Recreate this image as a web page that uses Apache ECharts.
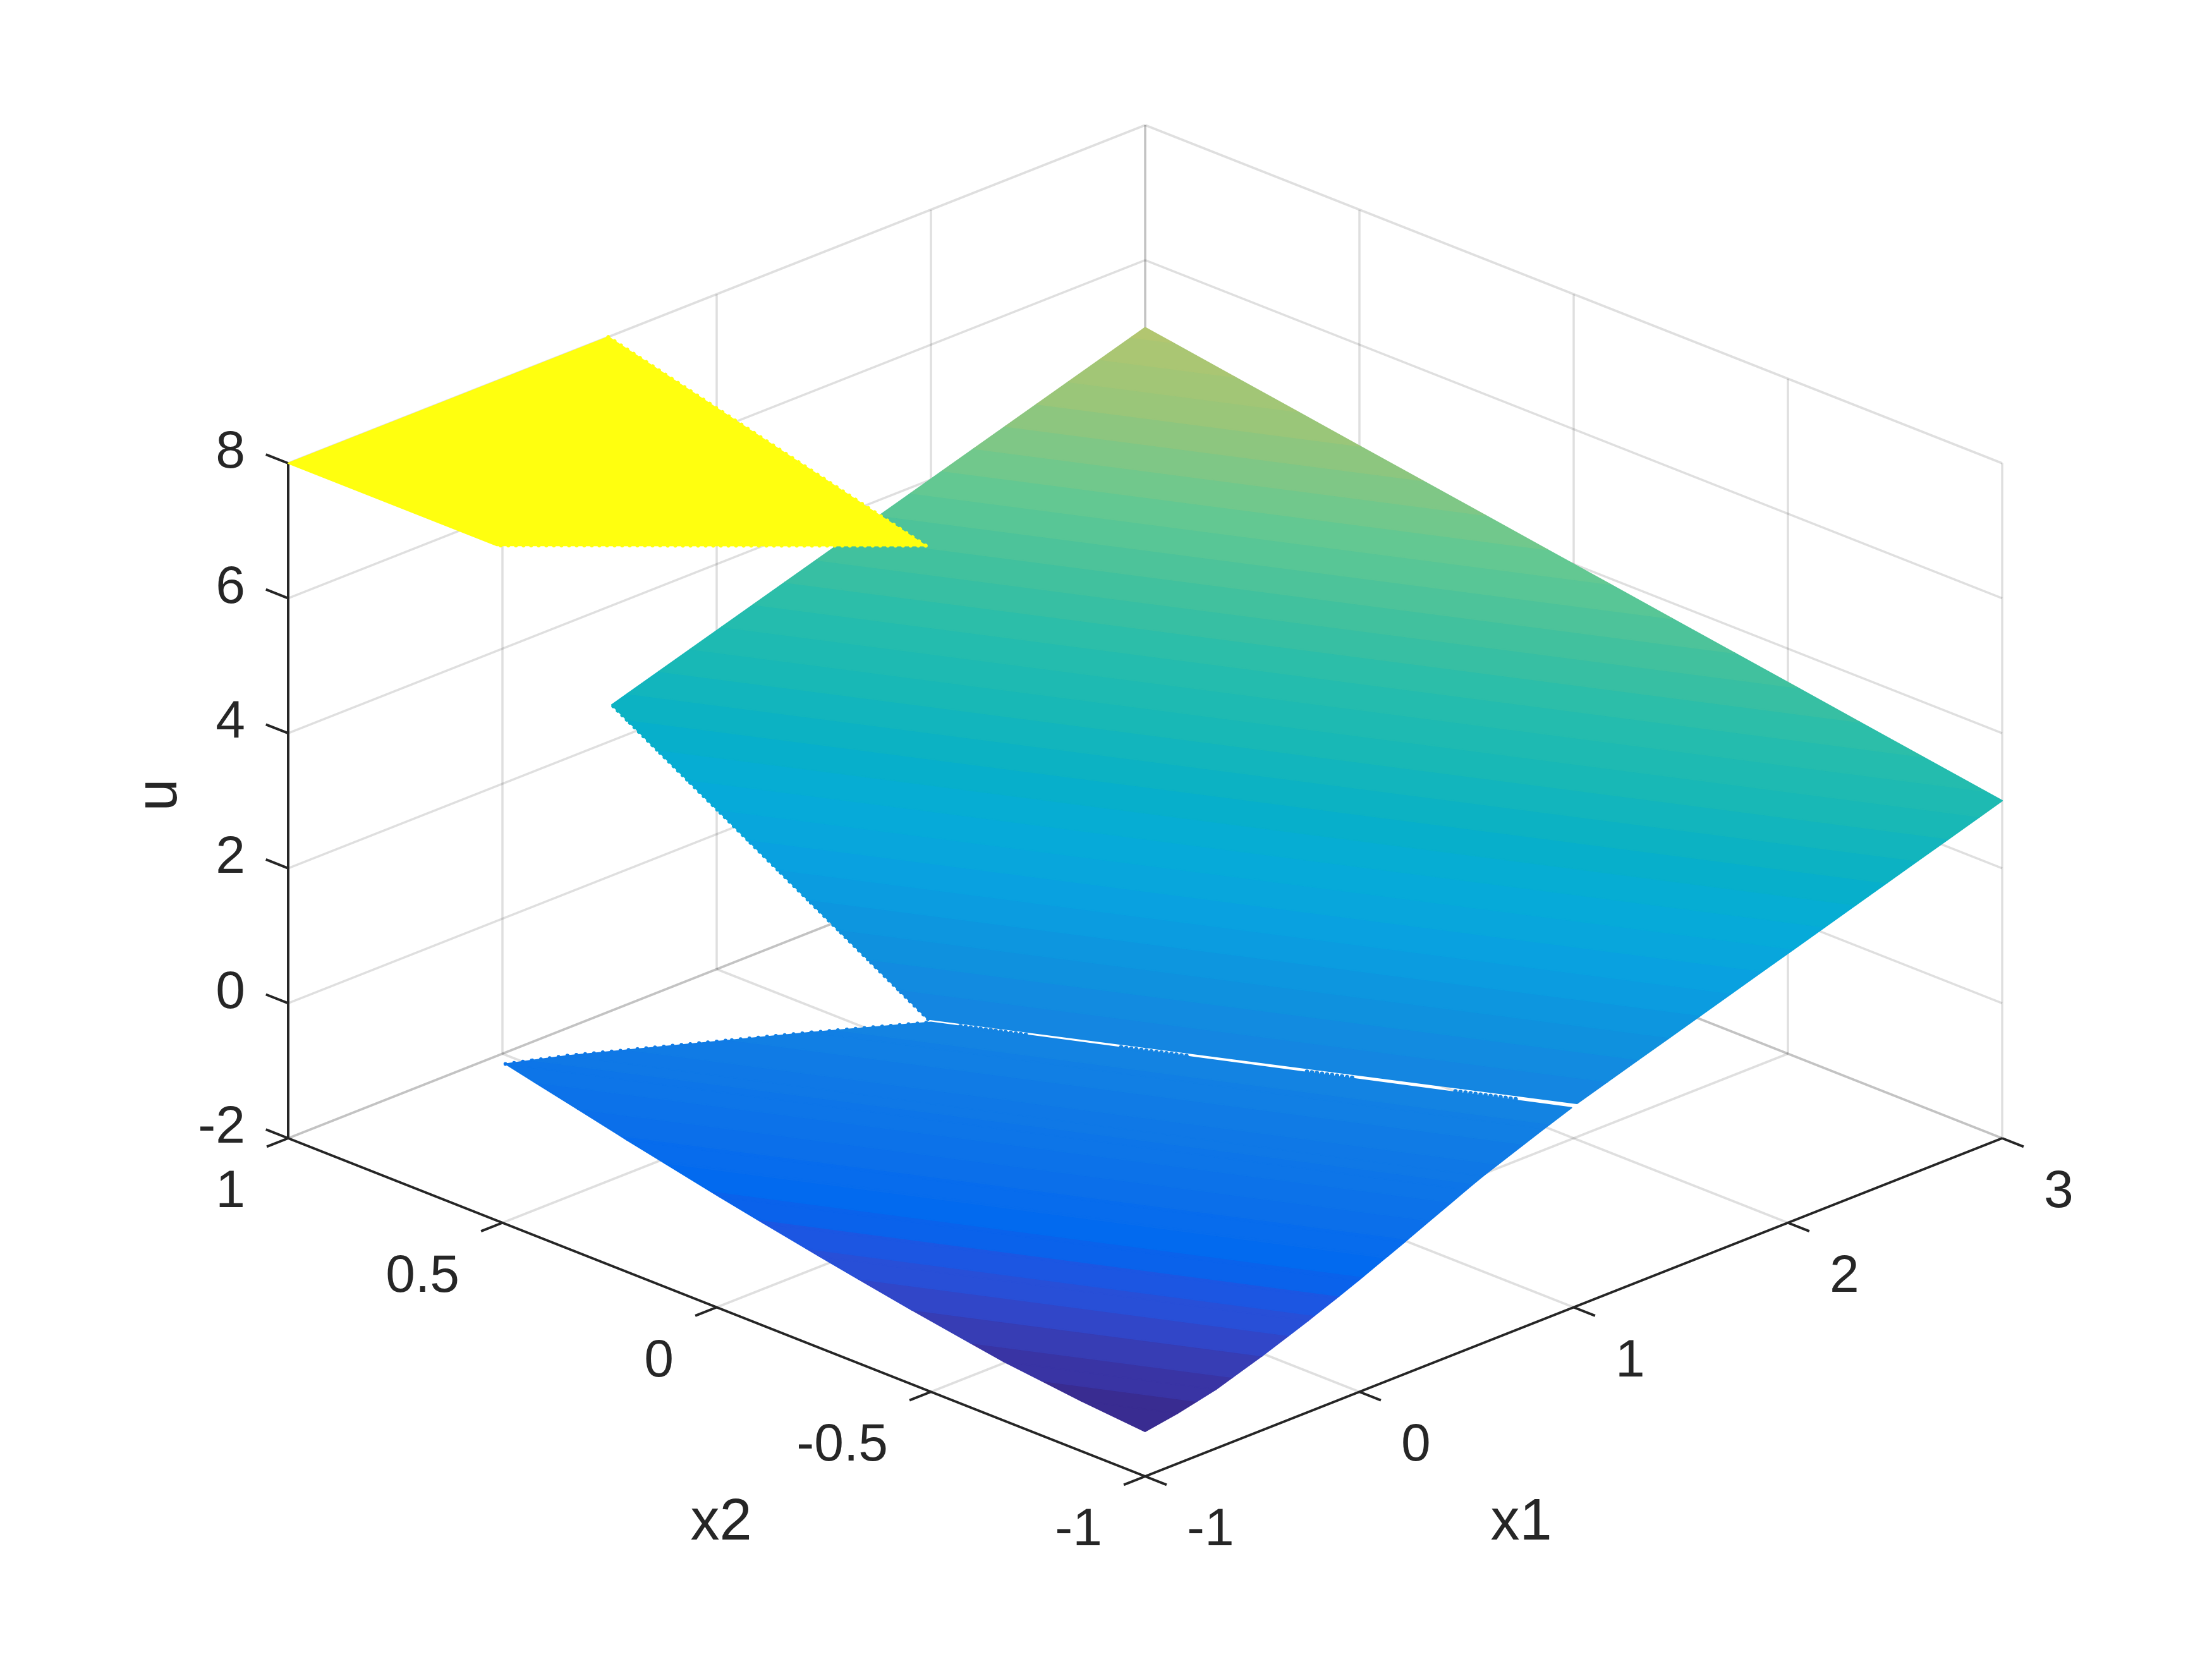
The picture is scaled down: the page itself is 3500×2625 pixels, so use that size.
<!DOCTYPE html>
<html>
<head>
<meta charset="utf-8">
<style>html,body{margin:0;padding:0;background:#fff}#chart{width:3500px;height:2625px}</style>
<script src="https://cdn.jsdelivr.net/npm/echarts@6/dist/echarts.min.js"></script>
</head>
<body>
<div id="chart"></div>
<script>
// ---- axis ticks ----
const x1Ticks = [-1, 0, 1, 2, 3];
const x1Labels = ['-1', '0', '1', '2', '3'];
const x2Ticks = [-1, -0.5, 0, 0.5, 1];
const x2Labels = ['-1', '-0.5', '0', '0.5', '1'];
const uTicks = [-2, 0, 2, 4, 6, 8];
const uLabels = ['-2', '0', '2', '4', '6', '8'];
const x1Title = 'x1', x2Title = 'x2', uTitle = 'u';

// ---- surface pieces, [x1, x2, u] ----
const saturatedPiece = [[-1, 1, 8], [0.494, 1, 8], [0, 0.012, 8], [-1, 0.513, 8]];
const upperPiece = [[3, 1, 5], [3, -1, 3], [1.015, -1, 1], [0, 0.007, 1], [0.51, 1, 2.53]];
const lowerLeftEdge = [[-1, -1, -1.335], [-1, -0.85, -1.255], [-1, -0.67, -1.125], [-1, -0.456, -0.9],
  [-1, -0.24, -0.645], [-1, -0.11, -0.48], [-1, -0.006, -0.345], [-1, 0.131, -0.155], [-1, 0.21, -0.045],
  [-1, 0.493, 0.37], [-0.848, 0.424, 0.475], [-0.278, 0.139, 0.82], [0, 0, 0.97]];
const lowerRightEdge = [[-1, -1, -1.335], [-0.85, -1, -1.255], [-0.67, -1, -1.125], [-0.456, -1, -0.9],
  [-0.24, -1, -0.645], [-0.11, -1, -0.48], [-0.006, -1, -0.345], [0.131, -1, -0.155], [0.21, -1, -0.045],
  [0.5, -1, 0.37], [0.576, -1, 0.475], [0.861, -1, 0.82], [0.99, -1, 0.97]];
// stretches of the seam where the white gap breaks into dots: [x1 start, x1 end]
const seamDottedSpans = [[0.046, 0.154], [0.296, 0.402], [0.585, 0.66], [0.816, 0.916]];
const seamU = 0.97;

// ---- colour scale: u value -> colour ----
const colourU = [-1.335, -1.15, -0.95, -0.75, -0.55, -0.3, 0, 0.5, 1.1, 1.37, 1.76, 2.16, 2.43, 2.82, 3.2, 3.48, 4, 4.54, 5, 6, 7, 8];
const colourRGB = [[56, 40, 135], [58, 50, 160], [55, 62, 182], [45, 75, 210], [30, 85, 225], [0, 105, 240], [10, 110, 235],
  [15, 120, 230], [20, 135, 225], [15, 145, 222], [10, 160, 225], [5, 172, 215], [8, 176, 200], [24, 184, 182], [40, 189, 172],
  [60, 192, 160], [100, 200, 146], [152, 198, 122], [178, 198, 112], [215, 205, 70], [240, 225, 40], [255, 255, 15]];
const colourLevels = 64;

// ---- view of the 3-D box on the page ----
const view = { ox: 1812, oy: 2336, x1x: 339, x1y: -133.75, x2x: -678, x2y: -267.5, uy: -106.8 };
function project(x1, x2, u) {
  const a = x1 + 1, b = x2 + 1;
  return [view.ox + view.x1x * a + view.x2x * b,
          view.oy + view.x1y * a + view.x2y * b + view.uy * (u + 2)];
}

const GRID = 'rgba(38,38,38,0.15)', INK = '#262626', FONT = '"Liberation Sans", Arial, sans-serif';
const seg = (a, b) => ({ a, b });

// grid lines on the floor and the two back walls
const gridSegs = [];
x1Ticks.forEach(t => gridSegs.push(seg([t, -1, -2], [t, 1, -2])));
x2Ticks.forEach(t => gridSegs.push(seg([-1, t, -2], [3, t, -2])));
x1Ticks.forEach(t => gridSegs.push(seg([t, 1, -2], [t, 1, 8])));
x2Ticks.forEach(t => gridSegs.push(seg([3, t, -2], [3, t, 8])));
uTicks.forEach(t => { gridSegs.push(seg([-1, 1, t], [3, 1, t])); gridSegs.push(seg([3, 1, t], [3, -1, t])); });

// axes and tick marks
const axisSegs = [seg([-1, -1, -2], [3, -1, -2]), seg([-1, -1, -2], [-1, 1, -2]), seg([-1, 1, -2], [-1, 1, 8])];
x1Ticks.forEach(t => axisSegs.push(seg([t, -1, -2], [t, -1.05, -2])));
x2Ticks.forEach(t => axisSegs.push(seg([-1, t, -2], [-1.1, t, -2])));
uTicks.forEach(t => axisSegs.push(seg([-1, 1, t], [-1, 1.052, t])));

// surface patches in drawing order
const lowerPatches = [];
for (let i = 0; i + 1 < lowerLeftEdge.length; i++) {
  lowerPatches.push([lowerLeftEdge[i], lowerRightEdge[i], lowerRightEdge[i + 1], lowerLeftEdge[i + 1]]);
}
const uMin = colourU[0], uMax = colourU[colourU.length - 1];
const step = (uMax - uMin) / colourLevels;

function colourAt(u) {
  let i = 0;
  while (i < colourU.length - 2 && u > colourU[i + 1]) i++;
  const f = Math.min(1, Math.max(0, (u - colourU[i]) / (colourU[i + 1] - colourU[i])));
  const c = colourRGB[i].map((v, k) => Math.round(v + (colourRGB[i + 1][k] - v) * f));
  return 'rgb(' + c.join(',') + ')';
}
const bandColour = k => colourAt(k === colourLevels - 1 ? uMax : uMin + (k + 0.5) * step);
function clipU(poly, level, keepAbove) {
  const out = [];
  const inside = p => keepAbove ? p[2] >= level : p[2] <= level;
  for (let i = 0; i < poly.length; i++) {
    const p = poly[i], q = poly[(i + 1) % poly.length];
    const pi = inside(p), qi = inside(q);
    if (pi) out.push(p);
    if (pi !== qi) {
      const f = (level - p[2]) / (q[2] - p[2]);
      out.push([p[0] + (q[0] - p[0]) * f, p[1] + (q[1] - p[1]) * f, level]);
    }
  }
  return out;
}
function bandPieces(poly) {
  const pieces = [];
  for (let k = 0; k < colourLevels; k++) {
    const lo = uMin + k * step, hi = lo + step;
    let c = clipU(poly, lo, true);
    if (c.length >= 3) c = clipU(c, k === colourLevels - 1 ? uMax + 1 : hi, false);
    if (c.length >= 3) pieces.push({ pts: c, colour: bandColour(k) });
  }
  return pieces;
}
// one rim of a surface piece, cut at the colour levels
function rimPieces(path) {
  const out = [];
  for (let i = 0; i + 1 < path.length; i++) {
    const p = path[i], q = path[i + 1];
    const at = t => [p[0] + (q[0] - p[0]) * t, p[1] + (q[1] - p[1]) * t, p[2] + (q[2] - p[2]) * t];
    if (p[2] === q[2]) {
      const k = Math.min(colourLevels - 1, Math.floor((p[2] - uMin) / step));
      out.push({ a: p, b: q, colour: bandColour(k) });
      continue;
    }
    for (let k = 0; k < colourLevels; k++) {
      const lo = uMin + k * step, hi = lo + step;
      const t1 = (lo - p[2]) / (q[2] - p[2]), t2 = (hi - p[2]) / (q[2] - p[2]);
      const s = Math.max(0, Math.min(t1, t2)), e = Math.min(1, Math.max(t1, t2));
      if (e > s) out.push({ a: at(s), b: at(e), colour: bandColour(k) });
    }
  }
  return out;
}

function segSeries(name, segs, colour, width) {
  return {
    type: 'custom', name, coordinateSystem: 'cartesian2d', silent: true, animation: false, clip: false,
    data: segs.map((s, i) => [i]),
    renderItem: (params, api) => {
      const s = segs[api.value(0)];
      const p = api.coord(project(...s.a)), q = api.coord(project(...s.b));
      return { type: 'line', shape: { x1: p[0], y1: p[1], x2: q[0], y2: q[1] },
        style: { stroke: colour, lineWidth: width, lineCap: 'butt' } };
    }
  };
}
function surfaceSeries(name, patches) {
  const pieces = patches.flatMap(bandPieces);
  return {
    type: 'custom', name, coordinateSystem: 'cartesian2d', silent: true, animation: false, clip: false,
    data: pieces.map((s, i) => [i]),
    renderItem: (params, api) => {
      const s = pieces[api.value(0)];
      return { type: 'polygon', shape: { points: s.pts.map(v => api.coord(project(...v))) },
        style: { fill: s.colour, stroke: s.colour, lineWidth: 2, lineJoin: 'round' } };
    }
  };
}
// the piece rims are rough in the picture: beaded with small round dots
function rimSeries(name, pieces, gap, width) {
  return {
    type: 'custom', name, coordinateSystem: 'cartesian2d', silent: true, animation: false, clip: false,
    data: pieces.map((s, i) => [i]),
    renderItem: (params, api) => {
      const s = pieces[api.value(0)];
      const p = api.coord(project(...s.a)), q = api.coord(project(...s.b));
      return { type: 'line', shape: { x1: p[0], y1: p[1], x2: q[0], y2: q[1] },
        style: { stroke: s.colour, lineWidth: width, lineCap: 'round', lineDash: [0.01, gap] } };
    }
  };
}
const seamPieces = seamDottedSpans.flatMap(sp => rimPieces([[sp[0], -sp[0], seamU], [sp[1], -sp[1], seamU]]));

const texts = [];
x1Ticks.forEach((t, i) => texts.push({ at: [t, -1, -2], text: x1Labels[i], dx: 66, dy: 86, align: 'left', size: 84 }));
x2Ticks.forEach((t, i) => texts.push({ at: [-1, t, -2], text: x2Labels[i], dx: -68, dy: 86, align: 'right', size: 84 }));
uTicks.forEach((t, i) => texts.push({ at: [-1, 1, t], text: uLabels[i], dx: -68, dy: -16, align: 'right', size: 84 }));
texts.push({ at: [1, -1, -2], text: x1Title, dx: -83, dy: 342, align: 'center', size: 92 });
texts.push({ at: [-1, 0, -2], text: x2Title, dx: 7, dy: 342, align: 'center', size: 92 });
texts.push({ at: [-1, 1, 3], text: uTitle, dx: -202, dy: -9, align: 'center', size: 92, rotation: Math.PI / 2 });

const chart = echarts.init(document.getElementById('chart'), null, { renderer: 'canvas', width: 3500, height: 2625 });
chart.setOption({
  backgroundColor: '#ffffff',
  animation: false,
  grid: { left: 0, right: 0, top: 0, bottom: 0 },
  xAxis: { type: 'value', min: 0, max: 3500, show: false },
  yAxis: { type: 'value', min: 0, max: 2625, inverse: true, show: false },
  series: [
    segSeries('grid', gridSegs, GRID, 3.5),
    segSeries('axes', axisSegs, INK, 4),
    rimSeries('upper rim', rimPieces([upperPiece[3], upperPiece[4]]), 10, 6),
    surfaceSeries('upper', [upperPiece]),
    rimSeries('lower rim', rimPieces(lowerLeftEdge.slice(9)), 14, 6),
    surfaceSeries('lower', lowerPatches),
    rimSeries('seam dots', seamPieces, 8, 7),
    rimSeries('saturated rim', rimPieces([saturatedPiece[1], saturatedPiece[2], saturatedPiece[3]]), 12, 6),
    surfaceSeries('saturated', [saturatedPiece]),
    {
      type: 'custom', name: 'labels', coordinateSystem: 'cartesian2d', silent: true, animation: false, clip: false,
      data: texts.map((t, i) => [i]),
      renderItem: (params, api) => {
        const t = texts[api.value(0)];
        const p = api.coord(project(...t.at));
        return { type: 'text', x: p[0] + t.dx, y: p[1] + t.dy, rotation: t.rotation || 0,
          style: { text: t.text, fontSize: t.size, fontFamily: FONT, fill: INK, align: t.align, verticalAlign: 'middle' } };
      }
    }
  ]
});
</script>
</body>
</html>
